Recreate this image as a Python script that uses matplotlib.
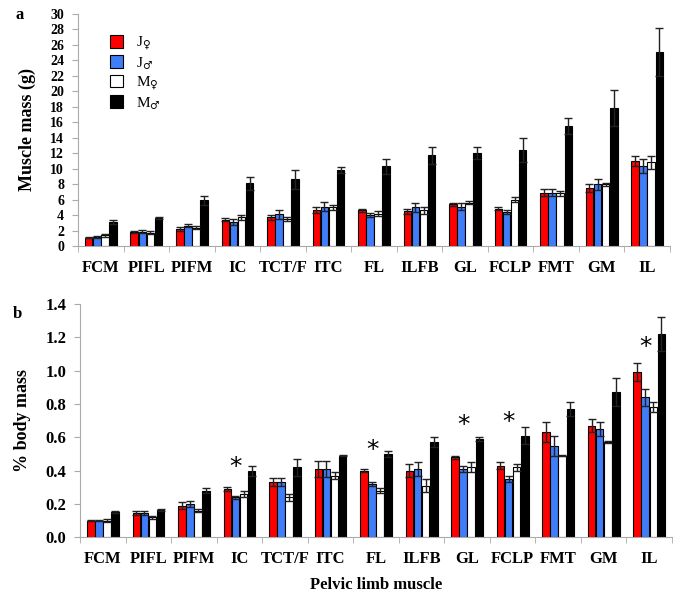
import numpy as np
import matplotlib.pyplot as plt
from matplotlib.patches import Patch

muscles = ["FCM", "PIFL", "PIFM", "IC", "TCT/F", "ITC", "FL",
           "ILFB", "GL", "FCLP", "FMT", "GM", "IL"]
groups = ["J_f", "J_m", "M_f", "M_m"]

# panel a: muscle mass (g)
mass_jf = [1.1, 1.8, 2.2, 3.4, 3.7, 4.7, 4.6, 4.5, 5.4, 4.8, 6.9, 7.5, 11.0]
mass_jm = [1.2, 1.85, 2.6, 3.1, 4.1, 5.1, 4.0, 5.0, 5.1, 4.4, 6.9, 8.0, 10.4]
mass_mf = [1.4, 1.7, 2.35, 3.7, 3.5, 5.0, 4.2, 4.6, 5.6, 6.0, 6.8, 8.0, 10.8]
mass_mm = [3.1, 3.6, 5.9, 8.1, 8.6, 9.8, 10.3, 11.7, 12.0, 12.4, 15.5, 17.8, 25.1]
mass_jf_err = [0.1, 0.1, 0.2, 0.2, 0.3, 0.4, 0.15, 0.3, 0.2, 0.2, 0.5, 0.5, 0.6]
mass_jm_err = [0.1, 0.2, 0.2, 0.4, 0.6, 0.6, 0.3, 0.6, 0.4, 0.3, 0.5, 0.7, 0.9]
mass_mf_err = [0.2, 0.2, 0.2, 0.3, 0.3, 0.3, 0.3, 0.5, 0.2, 0.3, 0.3, 0.2, 0.8]
mass_mm_err = [0.3, 0.1, 0.6, 0.8, 1.2, 0.4, 1.0, 1.1, 0.8, 1.6, 1.0, 2.3, 3.1]

# panel b: % body mass
pct_jf = [0.10, 0.145, 0.19, 0.29, 0.33, 0.41, 0.40, 0.40, 0.48, 0.43, 0.63, 0.67, 0.99]
pct_jm = [0.10, 0.145, 0.20, 0.24, 0.33, 0.41, 0.32, 0.41, 0.41, 0.35, 0.55, 0.65, 0.84]
pct_mf = [0.10, 0.12, 0.16, 0.26, 0.24, 0.37, 0.28, 0.31, 0.42, 0.42, 0.49, 0.57, 0.78]
pct_mm = [0.15, 0.165, 0.28, 0.40, 0.42, 0.49, 0.50, 0.57, 0.59, 0.61, 0.77, 0.87, 1.22]
pct_jf_err = [0.005, 0.01, 0.02, 0.01, 0.025, 0.05, 0.01, 0.04, 0.01, 0.02, 0.06, 0.04, 0.055]
pct_jm_err = [0.005, 0.01, 0.02, 0.01, 0.025, 0.05, 0.01, 0.04, 0.02, 0.02, 0.06, 0.04, 0.05]
pct_mf_err = [0.01, 0.01, 0.01, 0.02, 0.02, 0.02, 0.015, 0.04, 0.03, 0.02, 0.005, 0.005, 0.03]
pct_mm_err = [0.005, 0.005, 0.015, 0.03, 0.05, 0.005, 0.02, 0.03, 0.01, 0.05, 0.04, 0.085, 0.1]

# asterisks (muscle index, height in % body mass)
star_idx = [3, 6, 8, 9, 12]
star_y = [0.35, 0.45, 0.60, 0.62, 1.07]

colors = ["#ff0000", "#3f7ef8", "#ffffff", "#000000"]
serif = "Liberation Serif"
plt.rcParams["mathtext.fontset"] = "dejavuserif"


def draw_panel(ax, series, errors, ymax, ystep, fmt):
    x = np.arange(len(muscles))
    w, pitch = 0.165, 0.178
    for i, (vals, errs) in enumerate(zip(series, errors)):
        pos = x + (i - 1.5) * pitch
        ax.bar(pos, vals, width=w, color=colors[i], edgecolor="black",
               linewidth=0.8, zorder=2)
        ax.errorbar(pos, vals, yerr=errs, fmt="none", ecolor="#222222",
                    elinewidth=1.0, capsize=3, capthick=1.0, zorder=3)
    ax.set_xlim(-0.5, len(muscles) - 0.5)
    ax.set_ylim(0, ymax)
    ticks = np.arange(0, ymax + ystep / 2, ystep)
    ax.set_yticks(ticks)
    ax.set_yticklabels([fmt.format(v) for v in ticks], family=serif, fontweight="bold")
    ax.set_xticks(x)
    ax.set_xticklabels(muscles, family=serif, fontweight="bold", fontsize=12)
    ax.set_xticks(np.arange(-0.5, len(muscles)), minor=True)
    ax.tick_params(axis="x", which="major", length=0, pad=10)
    ax.tick_params(axis="x", which="minor", length=4, color="#aaaaaa")
    ax.tick_params(axis="y", length=4, color="#aaaaaa", pad=6)
    for s in ["top", "right"]:
        ax.spines[s].set_visible(False)
    for s in ["left", "bottom"]:
        ax.spines[s].set_color("#aaaaaa")


fig = plt.figure(figsize=(6.85, 6.03), dpi=100)
ax_a = fig.add_axes([0.114, 0.592, 0.864, 0.385])
ax_b = fig.add_axes([0.117, 0.109, 0.864, 0.387])

draw_panel(ax_a, [mass_jf, mass_jm, mass_mf, mass_mm],
           [mass_jf_err, mass_jm_err, mass_mf_err, mass_mm_err], 30, 2, "{:.0f}")
ax_a.tick_params(axis="y", labelsize=10)
ax_a.set_ylabel("Muscle mass (g)", family=serif, fontweight="bold", fontsize=13, labelpad=10)

draw_panel(ax_b, [pct_jf, pct_jm, pct_mf, pct_mm],
           [pct_jf_err, pct_jm_err, pct_mf_err, pct_mm_err], 1.4, 0.2, "{:.1f}")
ax_b.tick_params(axis="y", labelsize=12)
ax_b.set_ylabel("% body mass", family=serif, fontweight="bold", fontsize=13, labelpad=10)
ax_b.set_xlabel("Pelvic limb muscle", family=serif, fontweight="bold", fontsize=12, labelpad=7)

for i, y in zip(star_idx, star_y):
    ax_b.text(i - 0.5 * 0.178, y, "*", ha="center", va="bottom",
              fontsize=18, family="DejaVu Sans", zorder=4)

labels = [r"J$_{♀}$", r"J$_{♂}$", r"M$_{♀}$", r"M$_{♂}$"]
handles = [Patch(facecolor=c, edgecolor="black", linewidth=0.8) for c in colors]
ax_a.legend(handles, labels, loc="upper left", bbox_to_anchor=(0.03, 0.97),
            frameon=False, handlelength=0.9, handleheight=0.9, labelspacing=0.2,
            handletextpad=0.8, prop={"family": serif, "size": 11})

fig.text(0.022, 0.975, "a", family=serif, fontweight="bold", fontsize=12, va="center")
fig.text(0.018, 0.48, "b", family=serif, fontweight="bold", fontsize=12, va="center")

fig.savefig("out.png", dpi=100)
